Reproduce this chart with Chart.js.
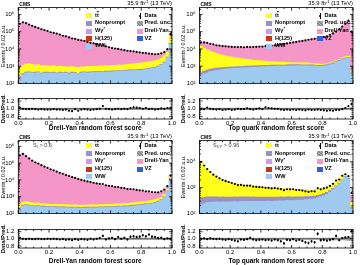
<!DOCTYPE html>
<html>
<head>
<meta charset="utf-8">
<script src="https://cdn.jsdelivr.net/npm/chart.js@4.4.1/dist/chart.umd.min.js"></script>
<style>
  body { margin: 0; width: 360px; height: 265px; background: #fff; position: relative; overflow: hidden; font-family: "Liberation Sans", Arial, sans-serif; }
  canvas { position: absolute; }
  .t { position: absolute; white-space: nowrap; line-height: 1; color: #000; }
  .cms { font-weight: bold; font-size: 5px; }
  .lumi { font-size: 5.8px; }
  .lg { font-weight: bold; font-size: 5.6px; }
  .cut { font-size: 5.6px; color: #444; }
  .sw { position: absolute; width: 6px; height: 5px; }
  sup { font-size: 70%; vertical-align: 0; position: relative; top: -0.45em; }
  sub { font-size: 70%; vertical-align: 0; position: relative; top: 0.3em; }
  .ob { text-decoration: overline; }
</style>
</head>
<body>
<script>
// bins: 50 x 0.02 over the random forest score
const nBins = 50;
const binWidth = 0.02;
const binCenters = Array.from({ length: nBins }, (_, i) => (i + 0.5) * binWidth);
const xTickValues = [0, 0.2, 0.4, 0.6, 0.8, 1.0];
const ratioTickValues = [0.8, 1.0, 1.2];
const mainDecades = [1e2, 1e3, 1e4, 1e5, 1e6];
const cutTopDecades = [1e2, 1e3, 1e4];

// Drell-Yan score, no extra cut
const dyWW = [140,320,400,420,380,400,420,355,400,400,380,400,370,400,380,400,365,400,380,320,400,420,400,420,430,430,450,435,460,460,470,480,500,500,510,525,540,550,560,575,600,630,675,725,795,910,1120,1580,3160,20000];
const dyNonprompt = [120,50,50,50,45,50,50,45,50,50,45,50,45,50,45,50,45,50,45,40,50,50,50,50,55,55,55,55,55,55,60,60,60,60,60,65,65,65,70,70,70,75,80,85,90,100,120,150,250,800];
const dyTT = [500,750,870,940,835,670,790,650,620,600,575,600,540,550,530,480,500,505,465,435,480,460,505,485,495,495,495,510,535,535,540,560,590,610,630,670,715,765,820,865,910,955,1025,1090,1205,1330,1580,2250,2890,42000];
const dyDY = [279000,349000,319000,259000,219000,189000,165000,139000,125000,111000,94000,86000,78000,68000,59000,54000,48100,42000,38100,34200,31100,28600,25000,22500,20500,18000,16400,14800,13050,11550,10430,9600,8850,8130,7300,6640,6080,5520,5050,4690,4320,3940,3620,3200,2910,2760,2680,2620,3200,8000];
const dyRatio = [1.03,1.0,0.99,0.99,1.0,0.99,0.98,0.99,0.98,0.98,0.98,0.99,0.98,0.98,0.97,0.98,0.95,0.94,0.99,0.95,0.98,0.99,0.98,0.97,0.98,0.99,1.0,1.07,1.0,0.99,0.98,0.99,1.0,0.99,1.0,0.99,1.02,1.04,1.03,1.02,1.0,1.02,0.99,1.0,0.98,0.99,1.01,1.0,1.02,1.02];
const dyRatioErr = [0.01,0.01,0.01,0.01,0.01,0.01,0.01,0.01,0.01,0.01,0.01,0.01,0.01,0.01,0.01,0.01,0.01,0.01,0.01,0.01,0.01,0.01,0.01,0.01,0.01,0.01,0.01,0.02,0.01,0.01,0.01,0.01,0.01,0.01,0.01,0.01,0.02,0.02,0.02,0.02,0.01,0.02,0.01,0.01,0.01,0.01,0.01,0.01,0.01,0.01];
const dyUnc = [0.03,0.02,0.02,0.02,0.02,0.02,0.02,0.02,0.02,0.02,0.02,0.02,0.02,0.02,0.02,0.02,0.02,0.02,0.02,0.02,0.02,0.02,0.02,0.02,0.02,0.02,0.02,0.02,0.02,0.02,0.02,0.02,0.02,0.02,0.02,0.02,0.02,0.02,0.02,0.02,0.02,0.02,0.02,0.02,0.02,0.02,0.02,0.02,0.02,0.03];

// top quark score, no extra cut
const topWW = [280,355,415,480,525,575,600,630,675,690,725,740,760,775,795,830,830,850,870,890,910,930,955,980,980,1000,1000,1000,1020,1050,1050,1050,1070,1050,1050,1050,1020,1000,980,980,1000,1070,1200,1380,1660,2000,2400,2750,3020,355];
const topNonprompt = [150,170,180,190,190,190,190,190,190,190,190,190,190,185,185,185,180,180,180,180,180,180,180,180,175,175,175,175,175,175,170,170,170,165,165,160,160,160,155,155,155,160,170,180,200,220,240,260,280,60];
const topTT = [13700,10700,8300,6930,5590,4640,4010,3450,3030,2670,2400,2160,2000,1790,1650,1495,1390,1260,1140,1020,910,840,765,700,625,565,525,525,465,395,360,360,340,365,365,340,300,250,215,185,165,150,210,240,260,290,380,540,500,100];
const topDY = [9900,12800,13000,12400,12300,11200,11000,10800,10600,10250,10200,10100,9950,10150,9970,10390,10500,10900,11000,11400,11800,12150,12900,13640,14420,15660,16900,18300,19740,21280,22900,24700,26600,28600,30800,33150,35700,38400,41350,45500,50000,54800,67600,81400,103000,138500,197000,278000,413000,88500];
const topRatio = [1.0,0.99,1.03,1.0,0.99,0.98,0.99,0.97,0.98,0.99,0.97,0.98,1.0,0.99,0.99,1.01,0.99,0.98,1.0,1.01,0.99,1.04,1.02,1.01,1.0,1.0,0.98,0.97,0.98,0.97,0.98,0.97,0.98,0.97,0.96,0.98,0.97,0.97,0.98,0.97,0.96,0.95,0.96,0.95,0.97,0.97,0.99,1.02,1.07,1.12];
const topRatioErr = [0.01,0.01,0.01,0.01,0.01,0.01,0.01,0.01,0.01,0.01,0.01,0.01,0.01,0.01,0.01,0.01,0.01,0.01,0.01,0.01,0.01,0.02,0.01,0.01,0.01,0.01,0.01,0.01,0.01,0.01,0.01,0.01,0.01,0.01,0.01,0.01,0.01,0.01,0.01,0.01,0.01,0.01,0.01,0.01,0.01,0.01,0.01,0.01,0.01,0.02];
const topUnc = [0.03,0.02,0.02,0.02,0.02,0.02,0.02,0.02,0.02,0.02,0.02,0.02,0.02,0.02,0.02,0.02,0.02,0.02,0.02,0.02,0.02,0.02,0.02,0.02,0.02,0.02,0.02,0.02,0.02,0.02,0.02,0.02,0.02,0.02,0.02,0.02,0.02,0.02,0.02,0.02,0.02,0.02,0.02,0.02,0.02,0.02,0.02,0.02,0.02,0.03];

// Drell-Yan score with S_t > 0.6
const cutDyWW = [125,280,300,280,265,250,265,240,240,235,230,230,225,220,225,215,215,210,215,210,205,210,210,215,210,215,220,220,225,225,230,235,240,245,250,255,265,275,290,300,315,330,345,370,415,480,600,890,2000,11000];
const cutDyNonprompt = [90,35,35,35,30,30,30,30,30,30,28,28,28,27,27,27,26,26,26,26,25,25,25,26,26,26,27,27,28,28,28,29,30,30,31,32,33,34,36,38,40,42,44,46,50,58,70,100,200,900];
const cutDyTT = [120,150,170,160,140,120,130,110,105,100,95,95,90,88,90,85,85,82,85,82,80,82,82,85,84,86,88,88,90,92,95,98,100,104,108,112,118,124,130,138,146,155,165,178,195,215,250,320,600,5500];
const cutDyDY = [281700,354500,262500,190500,140600,111600,92900,75500,62700,52140,42350,36850,31260,26560,23060,19670,17070,14780,12870,11180,9690,8800,8000,7080,6440,5840,5290,4920,4450,4030,3720,3440,3180,2930,2700,2480,2270,2140,1940,1760,1590,1420,1300,1190,1080,1030,1080,1320,1370,400];
const cutDyRatio = [1.03,1.0,0.99,1.0,0.99,0.99,1.0,0.99,0.99,1.0,0.99,1.0,0.99,0.98,0.99,0.97,0.98,0.96,0.99,0.97,0.99,0.98,0.97,1.0,0.98,1.0,1.02,1.08,0.98,1.01,1.03,0.99,1.05,1.0,1.03,0.98,1.06,1.07,1.05,1.06,1.1,1.07,1.12,1.06,1.05,1.02,1.03,0.99,1.01,1.0];
const cutDyRatioErr = [0.01,0.01,0.01,0.01,0.01,0.01,0.01,0.01,0.01,0.01,0.01,0.01,0.01,0.01,0.01,0.02,0.02,0.02,0.02,0.02,0.02,0.02,0.02,0.02,0.02,0.02,0.02,0.03,0.02,0.02,0.03,0.03,0.03,0.03,0.03,0.03,0.03,0.04,0.04,0.04,0.04,0.04,0.04,0.04,0.04,0.04,0.04,0.03,0.02,0.01];
const cutDyUnc = [0.03,0.02,0.02,0.02,0.02,0.02,0.02,0.02,0.02,0.02,0.02,0.02,0.02,0.02,0.02,0.02,0.02,0.02,0.02,0.02,0.02,0.02,0.02,0.02,0.02,0.02,0.02,0.02,0.02,0.02,0.02,0.02,0.02,0.02,0.02,0.02,0.02,0.02,0.02,0.02,0.02,0.02,0.02,0.02,0.02,0.02,0.02,0.02,0.02,0.03];

// top quark score with S_DY > 0.96
const cutTopWW = [210,240,265,275,275,280,275,280,275,280,280,290,280,290,290,295,290,295,295,290,295,295,300,295,300,300,310,310,315,315,315,325,330,330,340,345,355,370,400,435,480,550,660,830,1070,1410,1900,2630,2140,150];
const cutTopNonprompt = [200,180,170,165,160,160,155,155,150,150,150,150,145,145,145,140,140,140,135,135,135,130,130,130,125,125,125,120,120,120,115,115,110,110,110,105,105,100,100,100,100,100,100,100,100,100,110,120,120,30];
const cutTopTT = [9390,6510,4715,3460,2665,2200,1815,1525,1360,1200,1090,985,900,833,775,745,700,667,655,630,605,580,556,540,540,517,482,467,443,443,428,398,378,363,333,313,303,313,317,341,360,384,422,460,548,604,780,375,330,80];
const cutTopDY = [200,150,100,80,60,50,45,40,35,30,28,26,24,22,20,20,18,18,16,16,15,15,14,14,14,13,13,13,12,12,12,12,12,12,12,12,12,12,13,14,15,16,18,20,22,26,30,35,40,240];
const cutTopRatio = [1.0,1.01,0.99,1.01,1.0,0.99,1.0,0.98,0.97,0.99,0.97,0.95,0.93,0.98,0.97,0.99,1.03,0.98,0.96,0.97,0.98,0.96,0.97,0.95,0.98,0.96,0.93,0.87,0.97,0.96,0.99,0.95,0.97,0.94,0.9,0.88,0.93,0.9,1.14,0.96,0.97,0.95,0.97,0.99,1.08,0.96,1.02,1.04,1.05,1.22];
const cutTopRatioErr = [0.01,0.01,0.02,0.02,0.02,0.02,0.03,0.03,0.03,0.03,0.03,0.03,0.03,0.03,0.03,0.03,0.03,0.03,0.03,0.03,0.03,0.03,0.03,0.03,0.03,0.03,0.03,0.04,0.03,0.03,0.03,0.03,0.03,0.03,0.04,0.04,0.04,0.04,0.05,0.04,0.04,0.04,0.04,0.03,0.04,0.03,0.02,0.02,0.02,0.05];
const cutTopUnc = [0.03,0.02,0.02,0.02,0.02,0.02,0.02,0.02,0.02,0.02,0.02,0.02,0.02,0.02,0.02,0.02,0.02,0.02,0.02,0.02,0.02,0.02,0.02,0.02,0.02,0.02,0.02,0.02,0.02,0.02,0.02,0.02,0.02,0.02,0.02,0.02,0.02,0.02,0.02,0.02,0.02,0.02,0.03,0.03,0.03,0.03,0.03,0.04,0.05,0.06];

const colWW = '#9ecaf0';
const colNP = '#9a90c6';
const colTT = '#ffff1a';
const colDY = '#f596c8';
const colWG = '#cc99ee';
const colH = '#cc3311';
const colVZ = '#3560dd';

Chart.defaults.font.family = '"Liberation Sans", Arial, sans-serif';
Chart.defaults.color = '#000';

const supDigits = { '0': '⁰', '1': '¹', '2': '²', '3': '³', '4': '⁴', '5': '⁵', '6': '⁶', '7': '⁷', '8': '⁸', '9': '⁹' };
const pow10Label = (v) => '10' + String(Math.round(Math.log10(v))).split('').map(c => supDigits[c]).join('');

// box, inward ticks, unity line and ratio error bars
const framePlugin = {
  id: 'frame',
  afterDatasetsDraw(chart, args, opts) {
    const { ctx, chartArea: a } = chart;
    const sx = chart.scales.x, sy = chart.scales.y;
    ctx.save();
    ctx.strokeStyle = '#000';
    if (opts.unity) {
      ctx.lineWidth = 0.6;
      const y1 = sy.getPixelForValue(1);
      ctx.beginPath();
      ctx.moveTo(a.left, y1);
      ctx.lineTo(a.right, y1);
      ctx.stroke();
    }
    const pts = chart.data.datasets[0];
    if (pts.yErr) {
      ctx.lineWidth = 0.7;
      ctx.beginPath();
      pts.data.forEach((d, i) => {
        const x = sx.getPixelForValue(d.x);
        ctx.moveTo(x, Math.max(a.top, sy.getPixelForValue(d.y + pts.yErr[i])));
        ctx.lineTo(x, Math.min(a.bottom, sy.getPixelForValue(d.y - pts.yErr[i])));
      });
      ctx.stroke();
    }
    ctx.lineWidth = 0.8;
    ctx.beginPath();
    for (let k = 0; k <= 20; k++) {
      const x = sx.getPixelForValue(k * 0.05);
      const len = k % 4 === 0 ? 3 : 1.5;
      ctx.moveTo(x, a.bottom); ctx.lineTo(x, a.bottom - len);
      ctx.moveTo(x, a.top); ctx.lineTo(x, a.top + len);
    }
    const yt = [];
    if (opts.log) {
      for (let e = Math.floor(Math.log10(sy.min)); e <= Math.ceil(Math.log10(sy.max)); e++) {
        for (let m = 1; m <= 9; m++) {
          const v = m * Math.pow(10, e);
          if (v >= sy.min && v <= sy.max) yt.push([v, m === 1]);
        }
      }
    } else {
      for (let k = 15; k <= 25; k++) yt.push([k * 0.05, k % 4 === 0]);
    }
    yt.forEach(([v, major]) => {
      const y = sy.getPixelForValue(v);
      const len = major ? 3 : 1.5;
      ctx.moveTo(a.left, y); ctx.lineTo(a.left + len, y);
      ctx.moveTo(a.right, y); ctx.lineTo(a.right - len, y);
    });
    ctx.stroke();
    ctx.strokeRect(a.left, a.top, a.right - a.left, a.bottom - a.top);
    ctx.restore();
  }
};
Chart.register(framePlugin);

const panels = [
  { left: 0, mainTop: 0, mainH: 91, padTop: 7, padRight: 8, axisW: 18.3, yMin: 100, yMax: 2.5e6, decades: mainDecades,
    ratioTop: 91, ratioH: 41, ratioAxisH: 13, xTitle: 'Drell-Yan random forest score',
    ww: dyWW, np: dyNonprompt, tt: dyTT, dy: dyDY, ratio: dyRatio, err: dyRatioErr, unc: dyUnc,
    rows: [15.7, 23.3, 31, 38.7, 46], cut: null },
  { left: 180, mainTop: 0, mainH: 91, padTop: 7, padRight: 7, axisW: 19.5, yMin: 100, yMax: 2.5e6, decades: mainDecades,
    ratioTop: 91, ratioH: 41, ratioAxisH: 13, xTitle: 'Top quark random forest score',
    ww: topWW, np: topNonprompt, tt: topTT, dy: topDY, ratio: topRatio, err: topRatioErr, unc: topUnc,
    rows: [15.7, 23.3, 31, 38.7, 46], cut: null },
  { left: 0, mainTop: 133, mainH: 88, padTop: 7, padRight: 8, axisW: 18.3, yMin: 100, yMax: 2.2e6, decades: mainDecades,
    ratioTop: 222, ratioH: 43, ratioAxisH: 17, xTitle: 'Drell-Yan random forest score',
    ww: cutDyWW, np: cutDyNonprompt, tt: cutDyTT, dy: cutDyDY, ratio: cutDyRatio, err: cutDyRatioErr, unc: cutDyUnc,
    rows: [145.7, 153.5, 161.3, 169, 176.7], cut: 'S<sub>t</sub> &gt; 0.6' },
  { left: 180, mainTop: 133, mainH: 88, padTop: 7, padRight: 7, axisW: 19.5, yMin: 100, yMax: 6.6e4, decades: cutTopDecades,
    ratioTop: 222, ratioH: 43, ratioAxisH: 17, xTitle: 'Top quark random forest score',
    ww: cutTopWW, np: cutTopNonprompt, tt: cutTopTT, dy: cutTopDY, ratio: cutTopRatio, err: cutTopRatioErr, unc: cutTopUnc,
    rows: [145.7, 153.5, 161.3, 169, 176.7], cut: 'S<sub>DY</sub> &gt; 0.96' }
];

const legendItems = [
  { col: 0, row: 0, html: 't<span class="ob">t</span>', color: colTT },
  { col: 0, row: 1, html: 'Nonprompt', color: colNP },
  { col: 0, row: 2, html: 'Wγ<sup>*</sup>', color: colWG },
  { col: 0, row: 3, html: 'H(125)', color: colH },
  { col: 0, row: 4, html: 'WW', color: colWW },
  { col: 1, row: 0, html: 'Data', marker: 'data' },
  { col: 1, row: 1, html: 'Pred. unc.', marker: 'hatch' },
  { col: 1, row: 2, html: 'Drell-Yan', color: colDY },
  { col: 1, row: 3, html: 'VZ', color: colVZ }
];

function addCanvas(left, top, w, h) {
  const cv = document.createElement('canvas');
  cv.width = w; cv.height = h;
  cv.style.left = left + 'px'; cv.style.top = top + 'px';
  document.body.appendChild(cv);
  return cv;
}

function addText(html, x, y, cls, right) {
  const d = document.createElement('div');
  d.className = 't ' + cls;
  d.innerHTML = html;
  d.style.left = x + 'px';
  d.style.top = y + 'px';
  d.style.transform = right ? 'translate(-100%,-50%)' : 'translateY(-50%)';
  document.body.appendChild(d);
}

function addBox(x, y, w, h, style) {
  const d = document.createElement('div');
  d.className = 'sw';
  d.style.left = x + 'px'; d.style.top = y + 'px';
  d.style.width = w + 'px'; d.style.height = h + 'px';
  Object.assign(d.style, style);
  document.body.appendChild(d);
}

const bar = (label, vals, color) => ({
  type: 'bar', label, stack: 'mc',
  data: vals.map((v, i) => ({ x: binCenters[i], y: v })),
  backgroundColor: color, borderWidth: 0,
  barPercentage: 1, categoryPercentage: 1
});

panels.forEach(p => {
  const total = p.ww.map((v, i) => v + p.np[i] + p.tt[i] + p.dy[i]);

  new Chart(addCanvas(p.left, p.mainTop, 180, p.mainH), {
    type: 'bar',
    data: {
      datasets: [
        { type: 'scatter', label: 'Data', data: total.map((v, i) => ({ x: binCenters[i], y: v * p.ratio[i] })),
          pointRadius: 1.1, backgroundColor: '#000', borderWidth: 0 },
        bar('WW', p.ww, colWW),
        bar('Nonprompt', p.np, colNP),
        bar('tt', p.tt, colTT),
        bar('Drell-Yan', p.dy, colDY)
      ]
    },
    options: {
      responsive: false, animation: false, events: [],
      layout: { padding: { top: p.padTop, right: p.padRight, bottom: 2, left: 0 } },
      plugins: { legend: { display: false }, tooltip: { enabled: false }, frame: { log: true } },
      scales: {
        x: { type: 'linear', min: 0, max: 1, offset: false, display: false },
        y: {
          type: 'logarithmic', stacked: true, min: p.yMin, max: p.yMax,
          grid: { display: false, drawTicks: false }, border: { display: false },
          afterBuildTicks: s => { s.ticks = p.decades.map(v => ({ value: v })); },
          ticks: { autoSkip: false, padding: 4, font: { size: 6 }, callback: v => pow10Label(v) },
          title: { display: true, text: 'Events / 0.02 a.u.', font: { size: 5.5 }, padding: 0 },
          afterFit: s => { s.width = p.axisW; }
        }
      }
    }
  });

  new Chart(addCanvas(p.left, p.ratioTop, 180, p.ratioH), {
    type: 'bar',
    data: {
      datasets: [
        { type: 'scatter', label: 'Data/Pred.', data: p.ratio.map((r, i) => ({ x: binCenters[i], y: r })), yErr: p.err,
          pointRadius: 1.1, backgroundColor: '#000', borderWidth: 0 },
        { type: 'bar', label: 'Pred. unc.', data: p.unc.map((u, i) => ({ x: binCenters[i], y: [1 - u, 1 + u] })),
          backgroundColor: 'rgba(150,150,150,0.65)', borderWidth: 0, barPercentage: 1, categoryPercentage: 1 }
      ]
    },
    options: {
      responsive: false, animation: false, events: [],
      layout: { padding: { top: 2, right: p.padRight, bottom: 0, left: 0 } },
      plugins: { legend: { display: false }, tooltip: { enabled: false }, frame: { log: false, unity: true } },
      scales: {
        x: {
          type: 'linear', min: 0, max: 1, offset: false,
          grid: { display: false, drawTicks: false }, border: { display: false },
          afterBuildTicks: s => { s.ticks = xTickValues.map(v => ({ value: v })); },
          ticks: { autoSkip: false, maxRotation: 0, padding: 1, font: { size: 6 }, callback: v => v.toFixed(1) },
          title: { display: true, text: p.xTitle, font: { size: 6.5, weight: 'bold' }, padding: 0 },
          afterFit: s => { s.height = p.ratioAxisH; }
        },
        y: {
          type: 'linear', min: 0.74, max: 1.26,
          grid: { display: false, drawTicks: false }, border: { display: false },
          afterBuildTicks: s => { s.ticks = ratioTickValues.map(v => ({ value: v })); },
          ticks: { autoSkip: false, padding: 4, font: { size: 6 }, callback: v => v.toFixed(1) },
          title: { display: true, text: 'Data/Pred.', font: { size: 5.8, weight: 'bold' }, padding: 0 },
          afterFit: s => { s.width = p.axisW; }
        }
      }
    }
  });

  // labels and legend
  const boxLeft = p.left + p.axisW;
  const boxRight = p.left + 180 - p.padRight;
  const boxTop = p.mainTop + p.padTop;
  addText('CMS', boxLeft + 1, boxTop - 3, 'cms');
  addText('35.9 fb<sup>-1</sup> (13 TeV)', boxRight, boxTop - 3, 'lumi', true);
  if (p.cut) addText(p.cut, p.left + 33, p.rows[0], 'cut');

  legendItems.forEach(it => {
    const y = p.rows[it.row];
    const sx = p.left + (it.col === 0 ? 86 : 137);
    const tx = p.left + (it.col === 0 ? 95 : 144.5);
    if (it.marker === 'data') {
      addBox(sx + 2.6, y - 3, 0.8, 6, { background: '#000' });
      addBox(sx + 1.8, y - 1.2, 2.4, 2.4, { background: '#000', borderRadius: '50%' });
    } else if (it.marker === 'hatch') {
      addBox(sx, y - 2.5, 6, 5, { background: 'repeating-linear-gradient(45deg,#888 0 1px,#bbb 1px 2px)' });
    } else {
      addBox(sx, y - 2.5, 6, 5, { background: it.color });
    }
    addText(it.html, tx, y, 'lg');
  });
});
</script>
</body>
</html>
